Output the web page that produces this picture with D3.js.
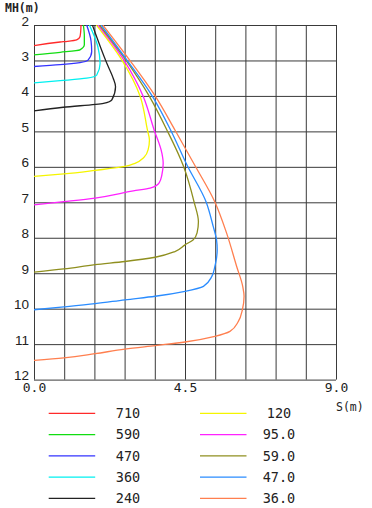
<!DOCTYPE html>
<html>
<head>
<meta charset="utf-8">
<script src="https://cdn.jsdelivr.net/npm/d3@7"></script>
<style>
  html, body { margin: 0; padding: 0; background: #fff; }
  svg { display: block; }
</style>
</head>
<body>
<svg id="chart" width="372" height="508"></svg>
<script>
// ---- data (S in m, MH in m) ----
const seriesLabels = ["710", "590", "470", "360", "240", "120", "95.0", "59.0", "47.0", "36.0"];
const seriesColors = ["#ff2a2a", "#11dd11", "#3333ff", "#00f0f0", "#222222",
                      "#f5f500", "#ff22ff", "#8f8f1f", "#2a8cff", "#ff7f4f"];

const c710 = [[1.40,2.00],[1.39,2.20],[1.37,2.33],[1.27,2.42],[1.00,2.46],[0.78,2.48],[0,2.58]];
const c590 = [[1.47,2.00],[1.50,2.30],[1.50,2.56],[1.37,2.70],[0.78,2.77],[0,2.84]];
const c470 = [[1.57,2.00],[1.70,2.45],[1.72,2.75],[1.61,2.99],[1.37,3.06],[0.78,3.12],[0,3.17]];
const c360 = [[1.65,2.00],[1.90,2.60],[1.97,3.08],[1.87,3.41],[1.57,3.50],[0.78,3.57],[0,3.63]];
const c240 = [[1.74,2.00],[2.17,3.08],[2.36,3.50],[2.43,3.74],[2.32,4.11],[2.07,4.21],[0.87,4.32],[0,4.42]];
const c120 = [[1.86,2.00],[2.62,2.99],[3.16,4.00],[3.38,4.96],[3.44,5.24],[3.40,5.52],[3.28,5.73],
              [3.01,5.90],[2.71,5.99],[1.82,6.10],[0.89,6.20],[0,6.27]];
const c95  = [[1.91,2.00],[2.68,2.99],[3.25,4.00],[3.58,4.96],[3.81,5.61],[3.85,5.90],[3.81,6.23],
              [3.73,6.45],[3.46,6.60],[2.96,6.68],[1.82,6.88],[0.89,6.98],[0,7.07]];
const c59  = [[1.95,2.00],[2.74,2.99],[3.43,4.00],[3.96,4.96],[4.45,5.97],[4.77,6.99],[4.90,7.55],
              [4.86,7.86],[4.74,8.06],[4.50,8.20],[4.20,8.39],[3.61,8.55],[2.71,8.67],[1.82,8.76],
              [0.89,8.88],[0,8.97]];
const c47  = [[2.00,2.00],[2.77,2.99],[3.52,4.00],[4.07,4.96],[4.57,5.97],[5.13,6.99],[5.34,7.68],
              [5.44,8.06],[5.46,8.34],[5.39,8.81],[5.30,9.09],[5.05,9.37],[4.50,9.51],[3.61,9.65],
              [2.71,9.75],[1.82,9.86],[0.89,9.95],[0,10.03]];
const c36  = [[2.05,2.00],[2.85,2.99],[3.61,4.00],[4.20,4.96],[4.80,5.97],[5.39,6.99],[5.74,7.87],
              [6.04,8.81],[6.22,9.37],[6.26,9.65],[6.21,10.03],[6.09,10.36],[5.84,10.64],[5.39,10.78],
              [4.50,10.94],[3.61,11.04],[2.71,11.14],[1.82,11.27],[0.89,11.39],[0,11.46]];
const curves = [c710, c590, c470, c360, c240, c120, c95, c59, c47, c36];

const xTickValues = [0, 0.9, 1.8, 2.7, 3.6, 4.5, 5.4, 6.3, 7.2, 8.1, 9.0];
const xTickLabels = {"0": "0.0", "4.5": "4.5", "9": "9.0"};
const yTickValues = [2, 3, 4, 5, 6, 7, 8, 9, 10, 11, 12];

// ---- layout ----
const svg = d3.select("#chart");
const x = d3.scaleLinear().domain([0, 9]).range([34, 336]);
const y = d3.scaleLinear().domain([2, 12]).range([25, 379.6]);

const gridColor = "#3a3a3a";

// vertical grid (x axis)
const xAxis = d3.axisBottom(x)
  .tickValues(xTickValues)
  .tickSize(-(y(12) - y(2)))
  .tickFormat(d => xTickLabels[String(d)] || "");
const gx = svg.append("g").attr("transform", `translate(0,${y(12)})`).call(xAxis);
gx.select(".domain").remove();
gx.selectAll(".tick line").attr("stroke", gridColor).attr("stroke-width", 1);
gx.selectAll(".tick text")
  .attr("y", 12.5).attr("dy", 0)
  .attr("fill", "#222")
  .style("font-family", "'DejaVu Sans Mono', monospace")
  .style("font-size", "13px");

// horizontal grid (y axis)
const yAxis = d3.axisLeft(y)
  .tickValues(yTickValues)
  .tickSize(-(x(9) - x(0)))
  .tickFormat(d3.format("d"));
const gy = svg.append("g").attr("transform", `translate(${x(0)},0)`).call(yAxis);
gy.select(".domain").remove();
gy.selectAll(".tick line").attr("stroke", gridColor).attr("stroke-width", 1);
gy.selectAll(".tick text")
  .attr("x", -5).attr("dy", 0)
  .attr("fill", "#222")
  .style("font-family", "'Liberation Sans', Arial, sans-serif")
  .style("font-size", "13.5px");

// axis titles
svg.append("text").attr("x", 5).attr("y", 12)
  .attr("fill", "#222")
  .style("font-family", "'DejaVu Sans Mono', monospace")
  .style("font-size", "11.5px").style("font-weight", "bold")
  .text("MH(m)");
svg.append("text").attr("x", 336).attr("y", 411)
  .attr("fill", "#222")
  .style("font-family", "'DejaVu Sans Mono', monospace")
  .style("font-size", "11.5px")
  .text("S(m)");

// curves
svg.append("clipPath").attr("id", "plotclip")
  .append("rect").attr("x", x(0)).attr("y", y(2)).attr("width", x(9) - x(0)).attr("height", y(12) - y(2));

const line = d3.line()
  .x(d => x(d[0]))
  .y(d => y(d[1]))
  .curve(d3.curveMonotoneY);

const gc = svg.append("g").attr("clip-path", "url(#plotclip)");
curves.forEach((c, i) => {
  gc.append("path")
    .attr("d", line(c))
    .attr("fill", "none")
    .attr("stroke", seriesColors[i])
    .attr("stroke-width", 1.3);
});

// legend
const legendRowY = d3.scaleLinear().domain([0, 4]).range([413.3, 498.3]);
seriesLabels.forEach((lab, i) => {
  const col = Math.floor(i / 5), row = i % 5;
  const lx0 = col === 0 ? 48.7 : 200;
  const tx = col === 0 ? 128 : 279;
  const yy = legendRowY(row);
  svg.append("line")
    .attr("x1", lx0).attr("x2", lx0 + 46.5)
    .attr("y1", yy).attr("y2", yy)
    .attr("stroke", seriesColors[i]).attr("stroke-width", 1.3);
  svg.append("text")
    .attr("x", tx).attr("y", yy + 4.9)
    .attr("text-anchor", "middle")
    .attr("fill", "#222")
    .style("font-family", "'DejaVu Sans Mono', monospace")
    .style("font-size", "13.5px")
    .text(lab);
});
</script>
</body>
</html>
